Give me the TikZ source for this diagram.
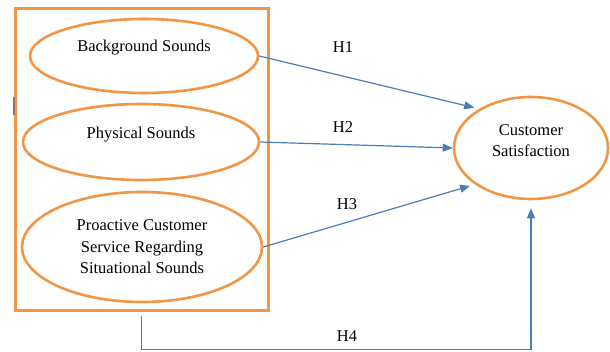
\documentclass[tikz,border=0pt]{standalone}
\usepackage{fontspec}
\setmainfont{Liberation Serif}
\usepackage{xcolor}
\usepackage{tikz}
\usetikzlibrary{shapes,arrows.meta,positioning,calc}

\definecolor{ovalorange}{RGB}{240,150,70}
\definecolor{linkblue}{RGB}{74,126,187}
\definecolor{markbrown}{RGB}{150,110,100}

\begin{document}
\begin{tikzpicture}[x=1pt, y=-1pt,
    txt/.style={font=\fontsize{16.5}{21.5}\selectfont, align=center, inner sep=0pt},
    oval/.style={ellipse, draw=ovalorange, line width=2.6pt, inner sep=2pt},
    frame/.style={rectangle, draw=ovalorange, line width=3pt, inner sep=0pt},
    link/.style={draw=linkblue, line width=1.2pt, -{Triangle[length=10pt,width=8pt]}}]
    \useasboundingbox (0,0) rectangle (610,352);

    % Grouping frame
    \node[frame, minimum width=253pt, minimum height=302pt] (box) at (141.5,160) {};
    \fill[markbrown] (13,97) rectangle (15,115);

    % Independent variables
    \node[oval, minimum width=228pt, minimum height=74pt,
          label={[txt, yshift=8pt]center:Background Sounds}] (bg) at (144,56) {};
    \node[oval, minimum width=236pt, minimum height=76pt,
          label={[txt, yshift=7pt]center:Physical Sounds}] (ps) at (141,142) {};
    \node[oval, txt, line width=2.6pt, minimum width=240pt, minimum height=110pt] (pc) at (142,247)
          {Proactive Customer\\Service Regarding\\Situational Sounds};

    % Dependent variable
    \node[oval, minimum width=154pt, minimum height=102pt,
          label={[txt, yshift=7.5pt]center:Customer\\Satisfaction}] (cs) at (531,148) {};

    % Hypotheses
    \draw[link, shorten >=5pt] (bg.east) -- (cs.143);
    \draw[link] (ps.east) -- (cs.west);
    \draw[link, shorten >=5pt] (pc.east) -- (cs.213);
    \draw[link, shorten >=8pt] ([yshift=-4pt]box.south) -- ++(0,33) -| (cs.south);

    \node[txt] (h1) at (343,47) {H1};
    \node[txt] (h2) at (343,127) {H2};
    \node[txt] (h3) at (347,204) {H3};
    \node[txt] (h4) at (347,336) {H4};
\end{tikzpicture}
\end{document}
